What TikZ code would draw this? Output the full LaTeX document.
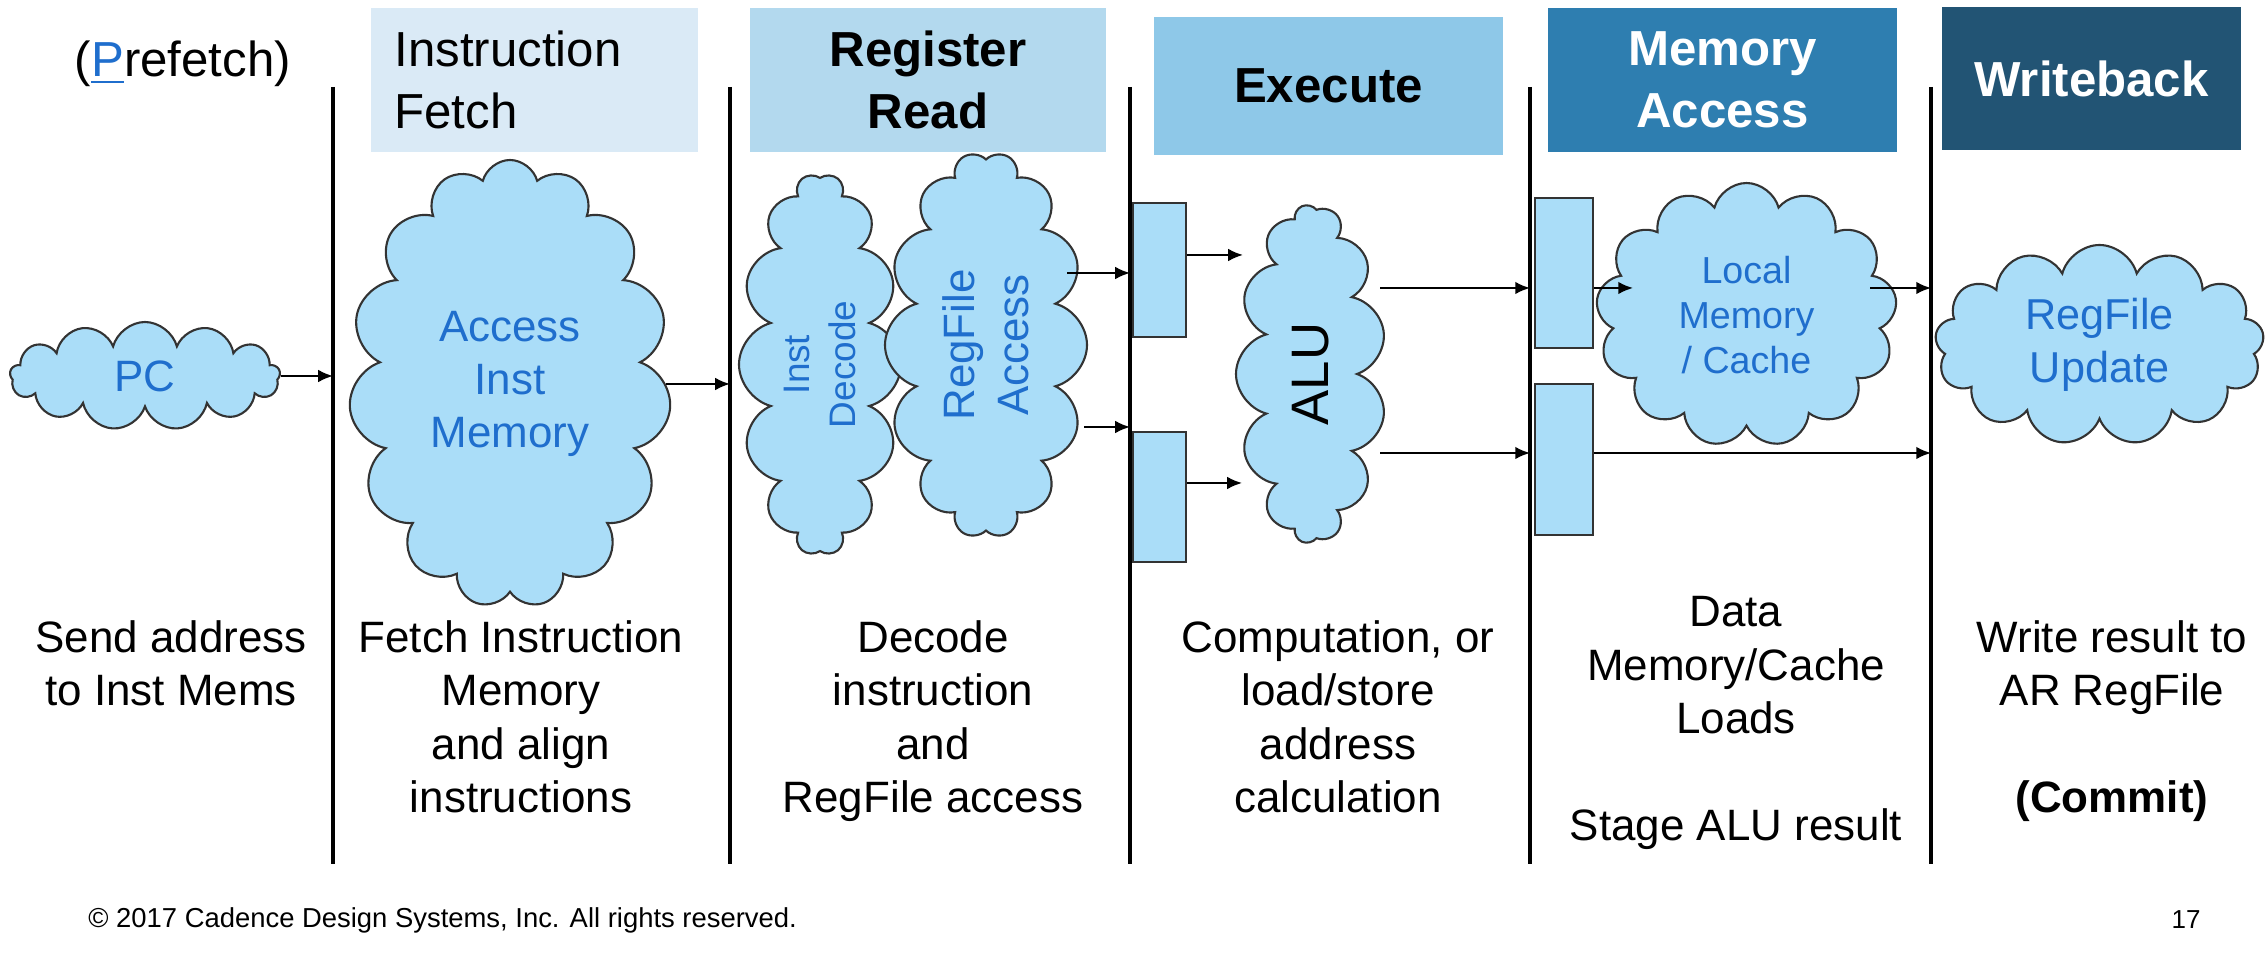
\documentclass[tikz,border=0pt]{standalone}
\usepackage{fontspec}
\setmainfont{Liberation Sans}
\usetikzlibrary{shapes.symbols, arrows.meta}
\definecolor{ifcol}{HTML}{DAEAF6}
\definecolor{rrcol}{HTML}{B3D9EE}
\definecolor{excol}{HTML}{8EC8E8}
\definecolor{macol}{HTML}{2E7EB0}
\definecolor{wbcol}{HTML}{225474}
\definecolor{puff}{HTML}{AADDF8}
\definecolor{puffink}{HTML}{1F6ECD}
\definecolor{edge}{HTML}{333333}

\begin{document}
\begin{tikzpicture}[
        puffy/.style={cloud, cloud ignores aspect, draw=edge, fill=puff, line width=0.6pt, text=puffink, align=center, inner sep=0pt},
        stagebox/.style={inner sep=0pt, align=center, font=\fontsize{14}{17.5}\selectfont},
        stagebold/.style={stagebox, font=\fontsize{14}{17.5}\selectfont\bfseries},
        regbox/.style={draw=edge, fill=puff, line width=0.6pt, minimum width=0.53cm, inner sep=0pt},
        arr/.style={-{Latex[length=4.2pt,width=3.6pt]}, line width=0.6pt},
        bar/.style={line width=1.4pt},
        note/.style={anchor=north, align=center, inner sep=0pt, font=\fontsize{12.5}{15.2}\selectfont}]
                \useasboundingbox (0,0) rectangle (22.68,9.52);
                \node[stagebox, fill=ifcol, minimum width=3.27cm, minimum height=1.44cm, text width=2.80cm, align=left] (IF) at (5.345,8.72) {Instruction\\Fetch};
                \node[stagebold, fill=rrcol, minimum width=3.56cm, minimum height=1.44cm] (RR) at (9.28,8.72) {Register\\Read};
                \node[stagebold, fill=excol, minimum width=3.49cm, minimum height=1.38cm] (EX) at (13.285,8.66) {Execute};
                \node[stagebold, fill=macol, text=white, minimum width=3.49cm, minimum height=1.44cm] (MA) at (17.225,8.72) {Memory\\Access};
                \node[stagebold, fill=wbcol, text=white, minimum width=2.99cm, minimum height=1.43cm] (WB) at (20.915,8.735) {Writeback};
                \node[anchor=base, font=\fontsize{14}{17.5}\selectfont] (PF) at (1.83,8.75) {(\textcolor{puffink}{\underline{P}}refetch)};
                \foreach \x [count=\i] in {3.33,7.30,11.30,15.30,19.31} {
                    \coordinate (T\i) at (\x,8.65);
                    \coordinate (B\i) at (\x,0.88);
                    \draw[bar] (T\i) -- (B\i);
                }
                \node[puffy, cloud puffs=13, minimum width=2.70cm, minimum height=1.08cm, font=\fontsize{12.5}{15}\selectfont] (PC) at (1.45,5.76) {PC};
                \node[puffy, cloud puffs=15, minimum width=3.22cm, minimum height=4.48cm, font=\fontsize{12.5}{15}\selectfont] (IM) at (5.10,5.68) {Access\\Inst\\Memory};
                \node[puffy, rotate=90, cloud puffs=14, minimum width=3.81cm, minimum height=1.62cm, font=\fontsize{10.5}{13}\selectfont] (ID) at (8.20,5.875) {Inst\\Decode};
                \node[puffy, rotate=90, cloud puffs=14, minimum width=3.86cm, minimum height=2.02cm, font=\fontsize{12.5}{15.5}\selectfont] (RA) at (9.86,6.07) {RegFile\\Access};
                \node[puffy, rotate=90, cloud puffs=13, minimum width=3.38cm, minimum height=1.50cm, text=black, font=\fontsize{15}{18}\selectfont] (ALU) at (13.11,5.78) {ALU};
                \node[puffy, cloud puffs=13, minimum width=3.01cm, minimum height=2.64cm, font=\fontsize{10.7}{12.8}\selectfont] (LM) at (17.465,6.37) {Local\\Memory\\/ Cache};
                \node[puffy, cloud puffs=13, minimum width=3.29cm, minimum height=2.00cm, font=\fontsize{12.3}{15}\selectfont] (RU) at (20.995,6.07) {RegFile\\Update};
                \node[regbox, minimum height=1.34cm] (RX1) at (11.595,6.82) {};
                \node[regbox, minimum height=1.30cm] (RX2) at (11.595,4.55) {};
                \node[regbox, minimum width=0.58cm, minimum height=1.50cm] (RM1) at (15.64,6.79) {};
                \node[regbox, minimum width=0.58cm, minimum height=1.51cm] (RM2) at (15.64,4.925) {};
                \coordinate (c1) at (10.67,6.79);
                \coordinate (c2) at (10.84,5.25);
                \coordinate (c3) at (12.43,6.97);
                \coordinate (c4) at (12.42,4.69);
                \coordinate (c5) at (13.80,6.64);
                \coordinate (c6) at (13.80,4.99);
                \coordinate (c7) at (16.33,6.64);
                \coordinate (c8) at (18.70,6.64);
                \draw[arr] (PC.east) -- (PC.east -| T1);
                \draw[arr] (IM.east) -- (IM.east -| T2);
                \draw[arr] (c1) -- (c1 -| T3);
                \draw[arr] (c2) -- (c2 -| T3);
                \draw[arr] (c3 -| RX1.east) -- (c3);
                \draw[arr] (c4 -| RX2.east) -- (c4);
                \draw[arr] (c5) -- (c5 -| T4);
                \draw[arr] (c6) -- (c6 -| T4);
                \draw[arr] (c7 -| RM1.east) -- (c7);
                \draw[arr] (c8) -- (c8 -| T5);
                \draw[arr] (c6 -| RM2.east) -- (c6 -| T5);
                \node[note] (N1) at (1.71,3.32) {Send address\\to Inst Mems};
                \node[note] (N2) at (5.21,3.32) {Fetch Instruction\\Memory\\and align\\instructions};
                \node[note] (N3) at (9.33,3.32) {Decode\\instruction\\and\\RegFile access};
                \node[note] (N4) at (13.38,3.32) {Computation, or\\load/store\\address\\calculation};
                \node[note] (N5) at (17.36,3.56) {Data\\Memory/Cache\\Loads\\[15.2pt]Stage ALU result};
                \node[note] (N6) at (21.12,3.32) {Write result to\\AR RegFile\\[15.2pt]\textbf{(Commit)}};
                \node[anchor=west, font=\fontsize{7.8}{8.5}\selectfont] (CR) at (0.76,0.32) {© 2017 Cadence Design Systems, Inc. All rights reserved.};
                \node[font=\fontsize{7.4}{8}\selectfont] (PG) at (21.86,0.32) {17};
            \end{tikzpicture}
\end{document}
